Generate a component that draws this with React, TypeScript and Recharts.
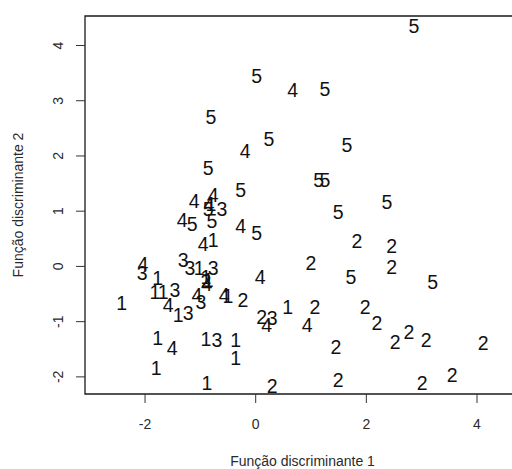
import React from 'react';
import {
  ScatterChart,
  Scatter,
  XAxis,
  YAxis,
  ReferenceArea,
  Label
} from 'recharts';

// discriminant scores, one group label per point
const ld1 = [
  2.86, 0.02, 0.67, 1.25, -0.81, 0.24, -0.19, 1.65, -0.86, -0.27,
  -1.11, -0.77, -0.84, -0.86, -0.81, -0.61, -0.79, -1.33, -1.15, -0.27,
  0.02, -0.95, -0.77, 1.14, 1.25, 1.49, 2.37, 1.83, 2.46, 1.00,
  2.46, 1.72, 3.20, -2.04, -2.05, -1.31, -1.19, -1.02, -0.77, -0.90,
  -0.90, -0.88, -0.86, 0.08, -1.77, -2.42, -1.82, -1.67, -1.46, -1.58,
  -1.40, -1.22, -1.06, -0.99, -0.57, -0.50, -0.23, 0.11, 0.30, 0.20,
  0.58, 1.07, 0.93, 1.98, 2.19, 2.52, 2.77, 3.08, 4.11, 1.45,
  -1.77, -1.51, -0.90, -0.70, -0.36, -0.36, -1.80, -0.88, 0.30, 1.49,
  3.01, 3.55
];
const ld2 = [
  4.35, 3.44, 3.19, 3.21, 2.70, 2.30, 2.09, 2.19, 1.78, 1.38,
  1.18, 1.29, 1.13, 1.04, 1.13, 1.04, 0.82, 0.84, 0.76, 0.73,
  0.60, 0.40, 0.47, 1.56, 1.56, 0.98, 1.16, 0.46, 0.37, 0.06,
  -0.01, -0.20, -0.29, 0.04, -0.12, 0.11, -0.03, -0.03, -0.03, -0.20,
  -0.27, -0.32, -0.25, -0.20, -0.21, -0.67, -0.47, -0.47, -0.43, -0.70,
  -0.88, -0.85, -0.52, -0.65, -0.52, -0.54, -0.61, -0.92, -0.94, -1.06,
  -0.74, -0.74, -1.06, -0.74, -1.03, -1.37, -1.19, -1.34, -1.39, -1.46,
  -1.30, -1.48, -1.32, -1.34, -1.34, -1.66, -1.84, -2.11, -2.17, -2.06,
  -2.11, -1.97
];
const groups = [
  '5', '5', '4', '5', '5', '5', '4', '5', '5', '5',
  '4', '4', '4', '5', '1', '3', '5', '4', '5', '4',
  '5', '4', '1', '5', '5', '5', '5', '2', '2', '2',
  '2', '5', '5', '4', '3', '3', '3', '1', '3', '1',
  '2', '4', '1', '4', '1', '1', '1', '1', '3', '4',
  '1', '3', '4', '3', '4', '1', '2', '2', '3', '4',
  '1', '2', '4', '2', '2', '2', '2', '2', '2', '2',
  '1', '4', '1', '3', '1', '1', '1', '1', '2', '2',
  '2', '2'
];

const xTicks = [-2, 0, 2, 4];
const yTicks = [-2, -1, 0, 1, 2, 3, 4];
const xDomain = [-3.085, 4.777];
const yDomain = [-2.31, 4.534];

const data = ld1.map((x, i) => ({ x, y: ld2[i], g: groups[i] }));

const FONT = '"Liberation Sans", Arial, sans-serif';

const PointLabel = (props: any) => {
  const { cx, cy, payload } = props;
  return (
    <text x={cx} y={cy} dy="0.36em" textAnchor="middle" fontSize={19.5} fontFamily={FONT} fill="#111">
      {payload.g}
    </text>
  );
};

const XTick = (props: any) => {
  const { x, payload } = props;
  return (
    <text x={x} y={424} dy="0.36em" textAnchor="middle" fontSize={14} fontFamily={FONT} fill="#2a2a2a">
      {payload.value}
    </text>
  );
};

const YTick = (props: any) => {
  const { y, payload } = props;
  return (
    <text x={58} y={y} dy="0.36em" transform={`rotate(-90 58 ${y})`} textAnchor="middle" fontSize={14} fontFamily={FONT} fill="#2a2a2a">
      {payload.value}
    </text>
  );
};

export default function App() {
  return (
    <div style={{ position: 'absolute', left: 0, top: 0, width: 512, height: 469, overflow: 'hidden', background: '#fff' }}>
      <ScatterChart width={520} height={469} margin={{ top: 16, right: 0, bottom: 15, left: 5 }}>
        <XAxis
          type="number"
          dataKey="x"
          domain={xDomain}
          ticks={xTicks}
          allowDataOverflow
          height={60}
          axisLine={false}
          tickSize={9}
          tickLine={{ stroke: '#333' }}
          tick={<XTick />}
        >
          <Label
            content={(p: any) => (
              <text x={p.viewBox.x + p.viewBox.width / 2} y={461} dy="0.36em" textAnchor="middle" fontSize={14} fontFamily={FONT} fill="#2a2a2a">
                Função discriminante 1
              </text>
            )}
          />
        </XAxis>
        <YAxis
          type="number"
          dataKey="y"
          domain={yDomain}
          ticks={yTicks}
          allowDataOverflow
          width={80}
          axisLine={false}
          tickSize={9}
          tickLine={{ stroke: '#333' }}
          tick={<YTick />}
        >
          <Label
            content={(p: any) => {
              const cy = p.viewBox.y + p.viewBox.height / 2;
              return (
                <text x={18} y={cy} dy="0.36em" transform={`rotate(-90 18 ${cy})`} textAnchor="middle" fontSize={14} fontFamily={FONT} fill="#2a2a2a">
                  Função discriminante 2
                </text>
              );
            }}
          />
        </YAxis>
        <ReferenceArea
          x1={xDomain[0]}
          x2={xDomain[1]}
          y1={yDomain[0]}
          y2={yDomain[1]}
          fill="none"
          fillOpacity={0}
          stroke="#1a1a1a"
          strokeWidth={1.3}
          ifOverflow="visible"
        />
        <Scatter data={data} shape={<PointLabel />} isAnimationActive={false} />
      </ScatterChart>
    </div>
  );
}
